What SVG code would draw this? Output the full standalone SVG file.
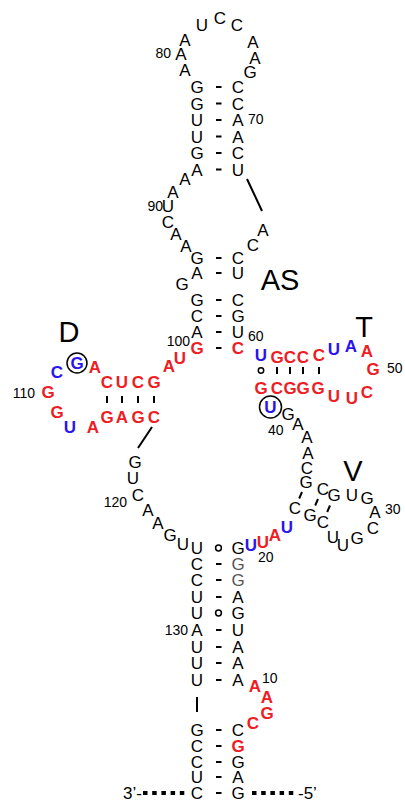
<svg xmlns="http://www.w3.org/2000/svg" width="405" height="804" viewBox="0 0 405 804">
<style>
text{font-family:"Liberation Sans",Arial,Helvetica,sans-serif;font-size:17px;text-anchor:middle;fill:#000}
.r{fill:#ee1c25;font-weight:bold}
.b{fill:#2a14ee;font-weight:bold}
.gr{fill:#555}
.num{font-size:14px}
.ns{font-size:14px;text-anchor:start}
.ne{font-size:14px;text-anchor:end}
.lab{font-size:29px}
.d{stroke:#000;stroke-width:2;fill:none}
.w{fill:none;stroke:#000;stroke-width:1.5}
.ln{stroke:#000;stroke-width:2;fill:none}
.end{stroke:#000;stroke-width:4;stroke-dasharray:4.5 4.7;fill:none}
</style>
<rect width="405" height="804" fill="#fff"/>
<g id="connectors">
<!-- top stem dashes -->
<path class="d" d="M216 87h5.5M216 103.5h5.5M216 120h5.5M216 136.5h5.5M216 153h5.5M216 169.5h5.5"/>
<!-- AS stem dashes -->
<path class="d" d="M216 258h5.5M216 273h5.5M216 300h5.5M216 316h5.5M216 332h5.5M216 348h5.5"/>
<!-- D arm bars -->
<path class="d" d="M107 396v7M122 396v7M138 396v7M154 396v7"/>
<!-- T arm bars -->
<path class="d" d="M277 367v7M290 367v7M303 367v7M319 367v7"/>
<circle class="w" cx="261" cy="370.5" r="2.7"/>
<!-- V arm bars -->
<path class="d" d="M302 492l-2.8 6.5M318 499l-2.8 6.5M330 505.5l-2.8 6.5"/>
<!-- lower stem -->
<circle class="w" cx="218.5" cy="548" r="2.9"/>
<path class="d" d="M216 564h5.5M216 580h5.5M216 597h5.5"/>
<circle class="w" cx="218.5" cy="613" r="2.9"/>
<path class="d" d="M216 630h5.5M216 647h5.5M216 663h5.5M216 680h5.5"/>
<path class="d" d="M216 730h5.5M216 746h5.5M216 762h5.5M216 777h5.5M216 793h5.5"/>
<!-- backbone lines -->
<path class="ln" d="M247 179L262 211"/>
<path class="ln" d="M152 427L138 448"/>
<path class="ln" d="M197 697V712"/>
<!-- ends -->
<path class="end" d="M143 793H187"/>
<path class="end" d="M252 793H294"/>
<!-- circles -->
<circle class="w" cx="77" cy="363" r="10"/>
<circle class="w" cx="270.5" cy="407" r="11"/>
</g>
<g id="top-loop">
<text x="185" y="76">A</text><text x="181" y="60">A</text><text x="185" y="46">A</text>
<text x="202" y="31">U</text><text x="220" y="24">C</text><text x="237" y="31">C</text>
<text x="253" y="48">A</text><text x="255" y="64">A</text><text x="250" y="78">G</text>
</g>
<g id="top-stem">
<text x="197" y="93">G</text><text x="197" y="109.5">G</text><text x="197" y="126">U</text>
<text x="197" y="142.5">U</text><text x="197" y="159">G</text><text x="197" y="175.5">A</text>
<text x="238" y="93">C</text><text x="238" y="109.5">C</text><text x="238" y="126">A</text>
<text x="238" y="142.5">A</text><text x="238" y="159">C</text><text x="238" y="175.5">U</text>
</g>
<g id="middle-loop">
<text x="185" y="185">A</text><text x="173" y="198">A</text><text x="168" y="212">U</text>
<text x="168" y="228">C</text><text x="176" y="240">A</text><text x="186" y="252">A</text>
<text x="263" y="236">A</text><text x="253" y="251">C</text>
</g>
<g id="AS-stem">
<text x="197" y="264">G</text><text x="197" y="279">A</text><text x="182" y="290">G</text>
<text x="197" y="306">G</text><text x="197" y="322">C</text><text x="197" y="338">A</text>
<text class="r" x="197" y="354">G</text>
<text x="238" y="264">C</text><text x="238" y="279">U</text>
<text x="238" y="306">C</text><text x="238" y="322">G</text><text x="238" y="338">U</text>
<text class="r" x="238" y="354">C</text>
</g>
<g id="D-arm">
<text class="r" x="180" y="364">U</text><text class="r" x="169" y="372">A</text>
<text class="r" x="154" y="388">G</text><text class="r" x="138" y="388">C</text>
<text class="r" x="122" y="388">U</text><text class="r" x="107" y="388">C</text>
<text class="r" x="95" y="373">A</text><text class="b" x="77" y="369">G</text>
<text class="b" x="57" y="378">C</text><text class="r" x="48" y="398">G</text>
<text class="r" x="57" y="418">G</text><text class="b" x="70" y="433">U</text>
<text class="r" x="93" y="433">A</text><text class="r" x="107" y="423">G</text>
<text class="r" x="122" y="423">A</text><text class="r" x="138" y="423">G</text>
<text class="r" x="154" y="423">C</text>
</g>
<g id="D-link">
<text x="135" y="468">G</text><text x="133" y="484">U</text><text x="138" y="501">C</text>
<text x="148" y="516">A</text><text x="158" y="529">A</text><text x="170" y="541">G</text>
<text x="183" y="550">U</text>
</g>
<g id="T-arm">
<text class="b" x="261" y="361">U</text><text class="r" x="277" y="363">G</text>
<text class="r" x="290" y="363">C</text><text class="r" x="303" y="363">C</text>
<text class="r" x="319" y="361">C</text><text class="b" x="334" y="355">U</text>
<text class="b" x="351" y="352">A</text><text class="r" x="367" y="357">A</text>
<text class="r" x="373" y="375">G</text><text class="r" x="367" y="398">C</text>
<text class="r" x="352" y="404">U</text><text class="r" x="334" y="402">U</text>
<text class="r" x="318" y="394">G</text><text class="r" x="303" y="394">G</text>
<text class="r" x="290" y="394">G</text><text class="r" x="277" y="394">C</text>
<text class="r" x="261" y="394">G</text>
</g>
<g id="V-link">
<text class="b" x="270.5" y="413">U</text><text x="288" y="420">G</text>
<text x="298" y="430">A</text><text x="307" y="443">A</text><text x="308" y="459">A</text>
<text x="307" y="474">C</text><text x="306" y="488">G</text>
</g>
<g id="V-arm">
<text x="323" y="495">C</text><text x="334" y="501">G</text><text x="352" y="501">U</text>
<text x="367" y="504">G</text><text x="375" y="518">A</text><text x="373" y="534">C</text>
<text x="357" y="544">G</text><text x="343" y="551">U</text><text x="333" y="543">U</text>
<text x="323" y="528">C</text><text x="310" y="521">G</text><text x="295" y="514">C</text>
<text class="b" x="287" y="533">U</text><text class="r" x="275" y="541">A</text>
<text class="r" x="263" y="548">U</text><text class="b" x="251" y="551">U</text>
</g>
<g id="acceptor-stem">
<text x="197" y="554">U</text><text x="197" y="570">C</text><text x="197" y="586">C</text>
<text x="197" y="603">U</text><text x="197" y="619">U</text><text x="197" y="636">A</text>
<text x="197" y="653">U</text><text x="197" y="669">U</text><text x="197" y="686">U</text>
<text x="238" y="554">G</text><text class="gr" x="238" y="570">G</text><text class="gr" x="238" y="586">G</text>
<text x="238" y="603">A</text><text x="238" y="619">G</text><text x="238" y="636">U</text>
<text x="238" y="653">A</text><text x="238" y="669">A</text><text x="238" y="686">A</text>
<text class="r" x="255" y="692">A</text><text class="r" x="267" y="703">A</text>
<text class="r" x="267" y="719">G</text><text class="r" x="253" y="729">C</text>
<text x="197" y="736">G</text><text x="197" y="752">C</text><text x="197" y="768">C</text>
<text x="197" y="783">U</text><text x="197" y="799">C</text>
<text x="238" y="736">C</text><text class="r" x="238" y="752">G</text><text x="238" y="768">G</text>
<text x="238" y="783">A</text><text x="238" y="799">G</text>
</g>
<g id="numbers">
<text class="ne" x="171" y="58">80</text>
<text class="ns" x="248" y="124">70</text>
<text class="ne" x="163" y="211">90</text>
<text class="ne" x="190" y="346">100</text>
<text class="ns" x="248" y="341">60</text>
<text class="ns" x="387" y="373">50</text>
<text class="ne" x="35" y="398">110</text>
<text class="ns" x="268" y="435">40</text>
<text class="ns" x="385" y="514">30</text>
<text class="ne" x="127" y="507">120</text>
<text class="ns" x="258" y="562">20</text>
<text class="ne" x="188" y="635">130</text>
<text class="ns" x="262" y="683">10</text>
<text class="ne" x="142" y="799" style="font-size:17px">3’-</text>
<text class="ns" x="298" y="799" style="font-size:17px">-5’</text>
</g>
<g id="labels">
<text class="lab" x="69" y="342">D</text>
<text class="lab" x="280" y="290">AS</text>
<text class="lab" x="364" y="337">T</text>
<text class="lab" x="353" y="481">V</text>
</g>
</svg>
